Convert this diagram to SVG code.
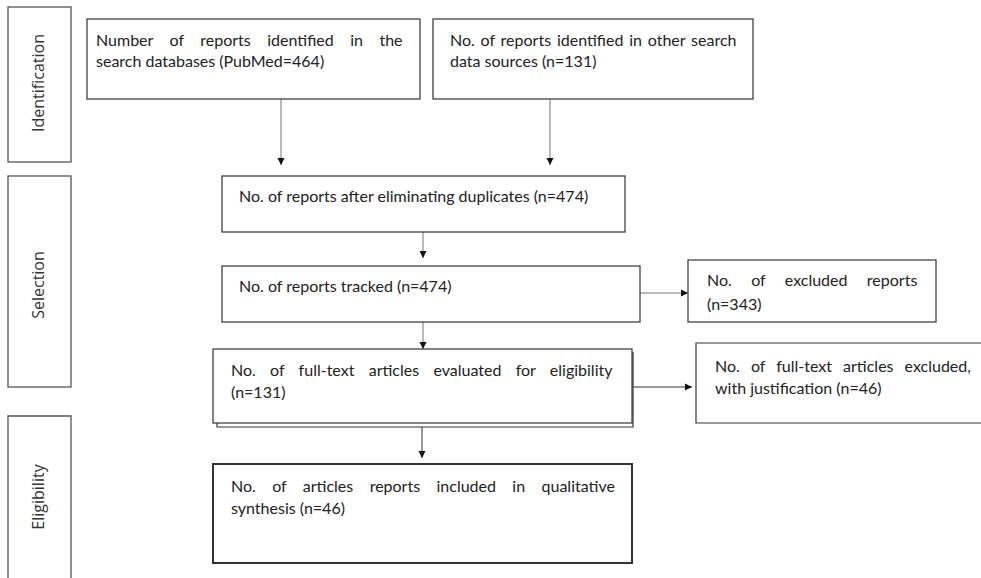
<svg xmlns="http://www.w3.org/2000/svg" width="981" height="578" viewBox="0 0 981 578">
<style>
.box{fill:#fff;stroke:#333;stroke-width:1.2}
.lane{fill:#fff;stroke:#555;stroke-width:1.3}
.t{font-family:Lato,"Open Sans","Liberation Sans",sans-serif;font-size:16px;fill:#222}
.lt{font-family:"Open Sans","Liberation Sans",sans-serif;font-size:16px;fill:#333}
.c{stroke:#777;stroke-width:1;fill:none}
</style>
<defs>
<marker id="ah" markerWidth="8" markerHeight="8" refX="7" refY="4" orient="auto" markerUnits="userSpaceOnUse">
<path d="M0,0.5 L7,4 L0,7.5 Z" fill="#111"/>
</marker>
</defs>
<rect width="981" height="578" fill="#fff"/>
<g id="lane-identification">
<rect class="lane" x="8" y="7" width="63" height="155"/>
<text class="lt" transform="translate(44,83) rotate(-90)" text-anchor="middle">Identification</text>
</g>
<g id="lane-selection">
<rect class="lane" x="8" y="176" width="63" height="211"/>
<text class="lt" transform="translate(44,285) rotate(-90)" text-anchor="middle">Selection</text>
</g>
<g id="lane-eligibility">
<path class="lane" d="M8,585 V416 H71 V585"/>
<text class="lt" transform="translate(44,497) rotate(-90)" text-anchor="middle">Eligibility</text>
</g>
<g id="connectors">
<line class="c" x1="281" y1="99" x2="281" y2="165" marker-end="url(#ah)"/>
<line class="c" x1="550" y1="99" x2="550" y2="165" marker-end="url(#ah)"/>
<line class="c" x1="423" y1="232" x2="423" y2="258" marker-end="url(#ah)"/>
<line class="c" x1="640" y1="293" x2="688" y2="293" marker-end="url(#ah)"/>
<line class="c" x1="423" y1="322" x2="423" y2="349" marker-end="url(#ah)"/>
<line class="c" x1="633" y1="387" x2="692" y2="387" marker-end="url(#ah)" style="stroke:#333"/>
<line class="c" x1="422" y1="427" x2="422" y2="458" marker-end="url(#ah)" style="stroke:#333"/>
</g>
<g id="n1">
<rect class="box" x="87" y="19" width="333" height="80"/>
<text class="t" x="96" y="46" word-spacing="12.4">Number of reports identified in the</text>
<text class="t" x="96" y="67">search databases (PubMed=464)</text>
</g>
<g id="n2">
<rect class="box" x="433" y="19" width="320" height="80"/>
<text class="t" x="450" y="46" word-spacing="1.7">No. of reports identified in other search</text>
<text class="t" x="450" y="67">data sources (n=131)</text>
</g>
<g id="n3">
<rect class="box" x="222" y="176" width="403" height="56"/>
<text class="t" x="239" y="202">No. of reports after eliminating duplicates (n=474)</text>
</g>
<g id="n4">
<rect class="box" x="222" y="266" width="418" height="56"/>
<text class="t" x="239" y="292">No. of reports tracked (n=474)</text>
</g>
<g id="n5">
<rect class="box" x="688" y="260" width="248" height="62"/>
<text class="t" x="707" y="286" word-spacing="15.3">No. of excluded reports</text>
<text class="t" x="707" y="310">(n=343)</text>
</g>
<g id="n6">
<path d="M217,423 V427 H633 V352" fill="none" stroke="#333" stroke-width="1.2"/>
<rect class="box" x="213" y="349" width="419" height="74"/>
<text class="t" x="231" y="376" word-spacing="10.2">No. of full-text articles evaluated for eligibility</text>
<text class="t" x="231" y="398">(n=131)</text>
</g>
<g id="n7">
<path d="M990,343 H696 V423 H990" fill="#fff" stroke="#333" stroke-width="1.2"/>
<text class="t" x="715" y="372" word-spacing="7">No. of full-text articles excluded,</text>
<text class="t" x="715" y="394">with justification (n=46)</text>
</g>
<g id="n8">
<rect class="box" x="213" y="464" width="419" height="99" style="stroke-width:2"/>
<text class="t" x="231" y="492" word-spacing="12.3">No. of articles reports included in qualitative</text>
<text class="t" x="231" y="514">synthesis (n=46)</text>
</g>
</svg>
